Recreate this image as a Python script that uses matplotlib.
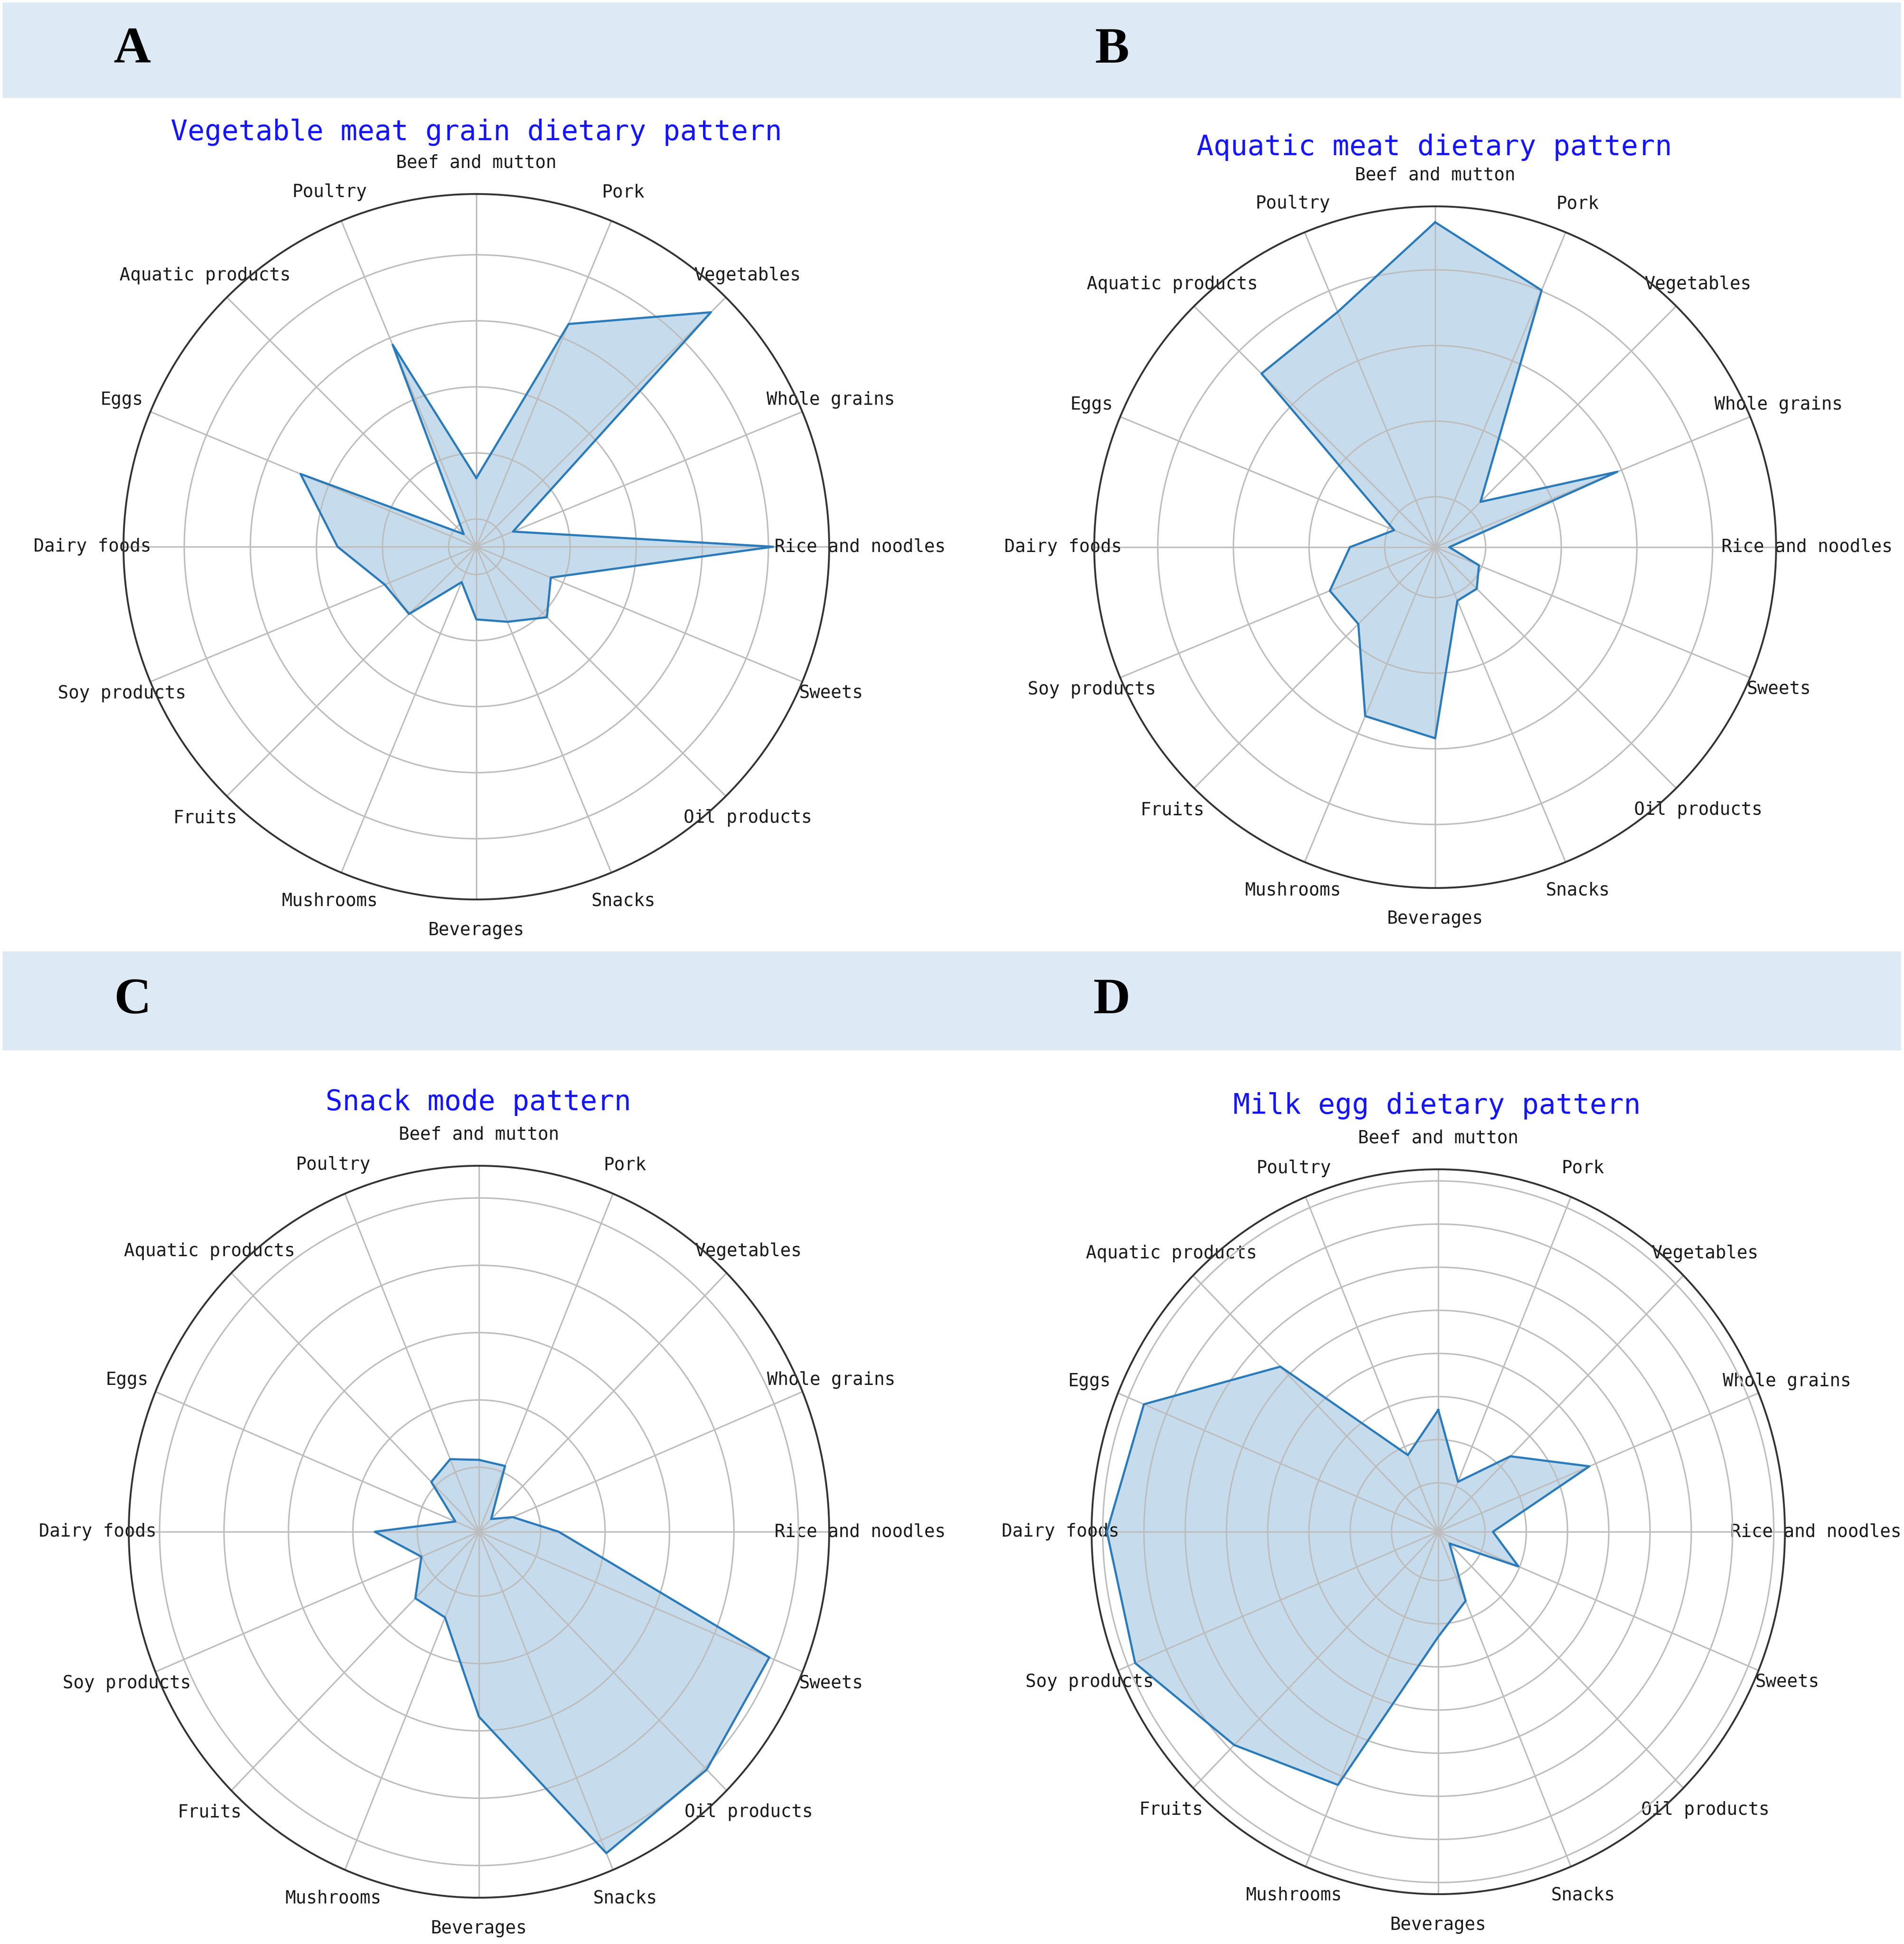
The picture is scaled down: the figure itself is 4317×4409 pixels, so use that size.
import numpy as np
import matplotlib
matplotlib.use('Agg')
import matplotlib.pyplot as plt
from matplotlib.patches import Rectangle

# food groups, clockwise from the top
foods = ['Beef and mutton', 'Pork', 'Vegetables', 'Whole grains', 'Rice and noodles',
         'Sweets', 'Oil products', 'Snacks', 'Beverages', 'Mushrooms', 'Fruits',
         'Soy products', 'Dairy foods', 'Eggs', 'Aquatic products', 'Poultry']

# pattern scores (in grid-ring units)
veg_meat_grain = [0.62, 3.23, 4.60, 0.18, 4.07, 0.80, 1.09, 0.81,
                  0.68, 0.16, 1.02, 1.08, 1.68, 2.46, -0.15, 2.89]
aquatic_meat = [3.63, 3.01, 0.18, 1.94, -0.48, -0.04, 0.11, 0.10,
                1.86, 1.75, 0.77, 0.84, 0.46, -0.08, 2.58, 2.70]
snack_mode = [0.11, 0.10, -0.69, -0.39, 0.28, 3.92, 4.04, 4.21,
              1.79, 0.42, 0.44, 0.01, 0.66, -0.56, 0.09, 0.21]
milk_egg = [1.69, 0.12, 1.34, 2.83, 0.19, 0.97, -0.75, 0.60,
            1.30, 5.22, 5.86, 6.82, 6.90, 6.59, 4.28, 0.79]

titles = ['Vegetable meat grain dietary pattern', 'Aquatic meat dietary pattern',
          'Snack mode pattern', 'Milk egg dietary pattern']
panel_letters = ['A', 'B', 'C', 'D']

W, H = 4317, 4409
fig = plt.figure(figsize=(W / 100, H / 100), dpi=100)
fig.patch.set_facecolor('white')

def fx(px):
    return px / W

def fy(py):
    return 1 - py / H

# header bands with panel letters
for top, bot in [(6, 221), (2158, 2381)]:
    fig.patches.append(Rectangle((fx(6), fy(bot)), fx(4309) - fx(6), fy(top) - fy(bot),
                                 transform=fig.transFigure, color='#dde9f5', zorder=0))
letter_pos = [(300, 114), (2521, 114), (300, 2270), (2521, 2270)]
for L, (x, y) in zip(panel_letters, letter_pos):
    fig.text(fx(x), fy(y), L, fontsize=84, fontweight='bold', family='Liberation Serif',
             ha='center', va='center', color='black')

# panel geometry: centre x, centre y, radius x, radius y (pixels)
boxes = [(1080, 1240, 800, 800), (3254, 1241, 773, 773),
         (1086, 3474, 794, 830), (3261, 3474, 786, 822)]
title_pos = [(1080, 300), (3252, 334), (1084, 2500), (3258, 2508)]
rlims = [(-0.42, 4.92, 5), (-0.667, 3.84, 4), (-0.957, 4.478, 5), (-1.134, 7.27, 8)]
series = [veg_meat_grain, aquatic_meat, snack_mode, milk_egg]

angles = np.linspace(0, 2 * np.pi, len(foods), endpoint=False)

for vals, (cx, cy, rx, ry), (tx, ty), (rmin, rmax, nring), title in zip(
        series, boxes, title_pos, rlims, titles):
    ax = fig.add_axes([fx(cx - rx), fy(cy + ry), 2 * rx / W, 2 * ry / H], projection='polar')
    ax.set_aspect('auto')
    ax.set_theta_offset(np.pi / 2)
    ax.set_theta_direction(-1)

    v = np.concatenate([vals, vals[:1]])
    a = np.concatenate([angles, angles[:1]])
    ax.fill(a, v, color='#1f77b4', alpha=0.25, lw=0)
    ax.plot(a, v, color='#2b7bba', lw=3.5)

    ax.set_ylim(rmin, rmax)
    ax.set_yticks(np.arange(nring))
    ax.set_yticklabels([])
    ax.set_xticks(angles)
    ax.set_xticklabels(foods, family='DejaVu Sans Mono', fontsize=29, color='#1a1a1a')
    ax.tick_params(axis='x', pad=40)
    ax.grid(True, color='#bdbdbd', lw=2.4)
    ax.spines['polar'].set_color('#333333')
    ax.spines['polar'].set_linewidth(3)

    fig.text(fx(tx), fy(ty), title, fontsize=46, family='DejaVu Sans Mono',
             color='#1414ff', ha='center', va='center')

fig.savefig('out.png', dpi=100)
